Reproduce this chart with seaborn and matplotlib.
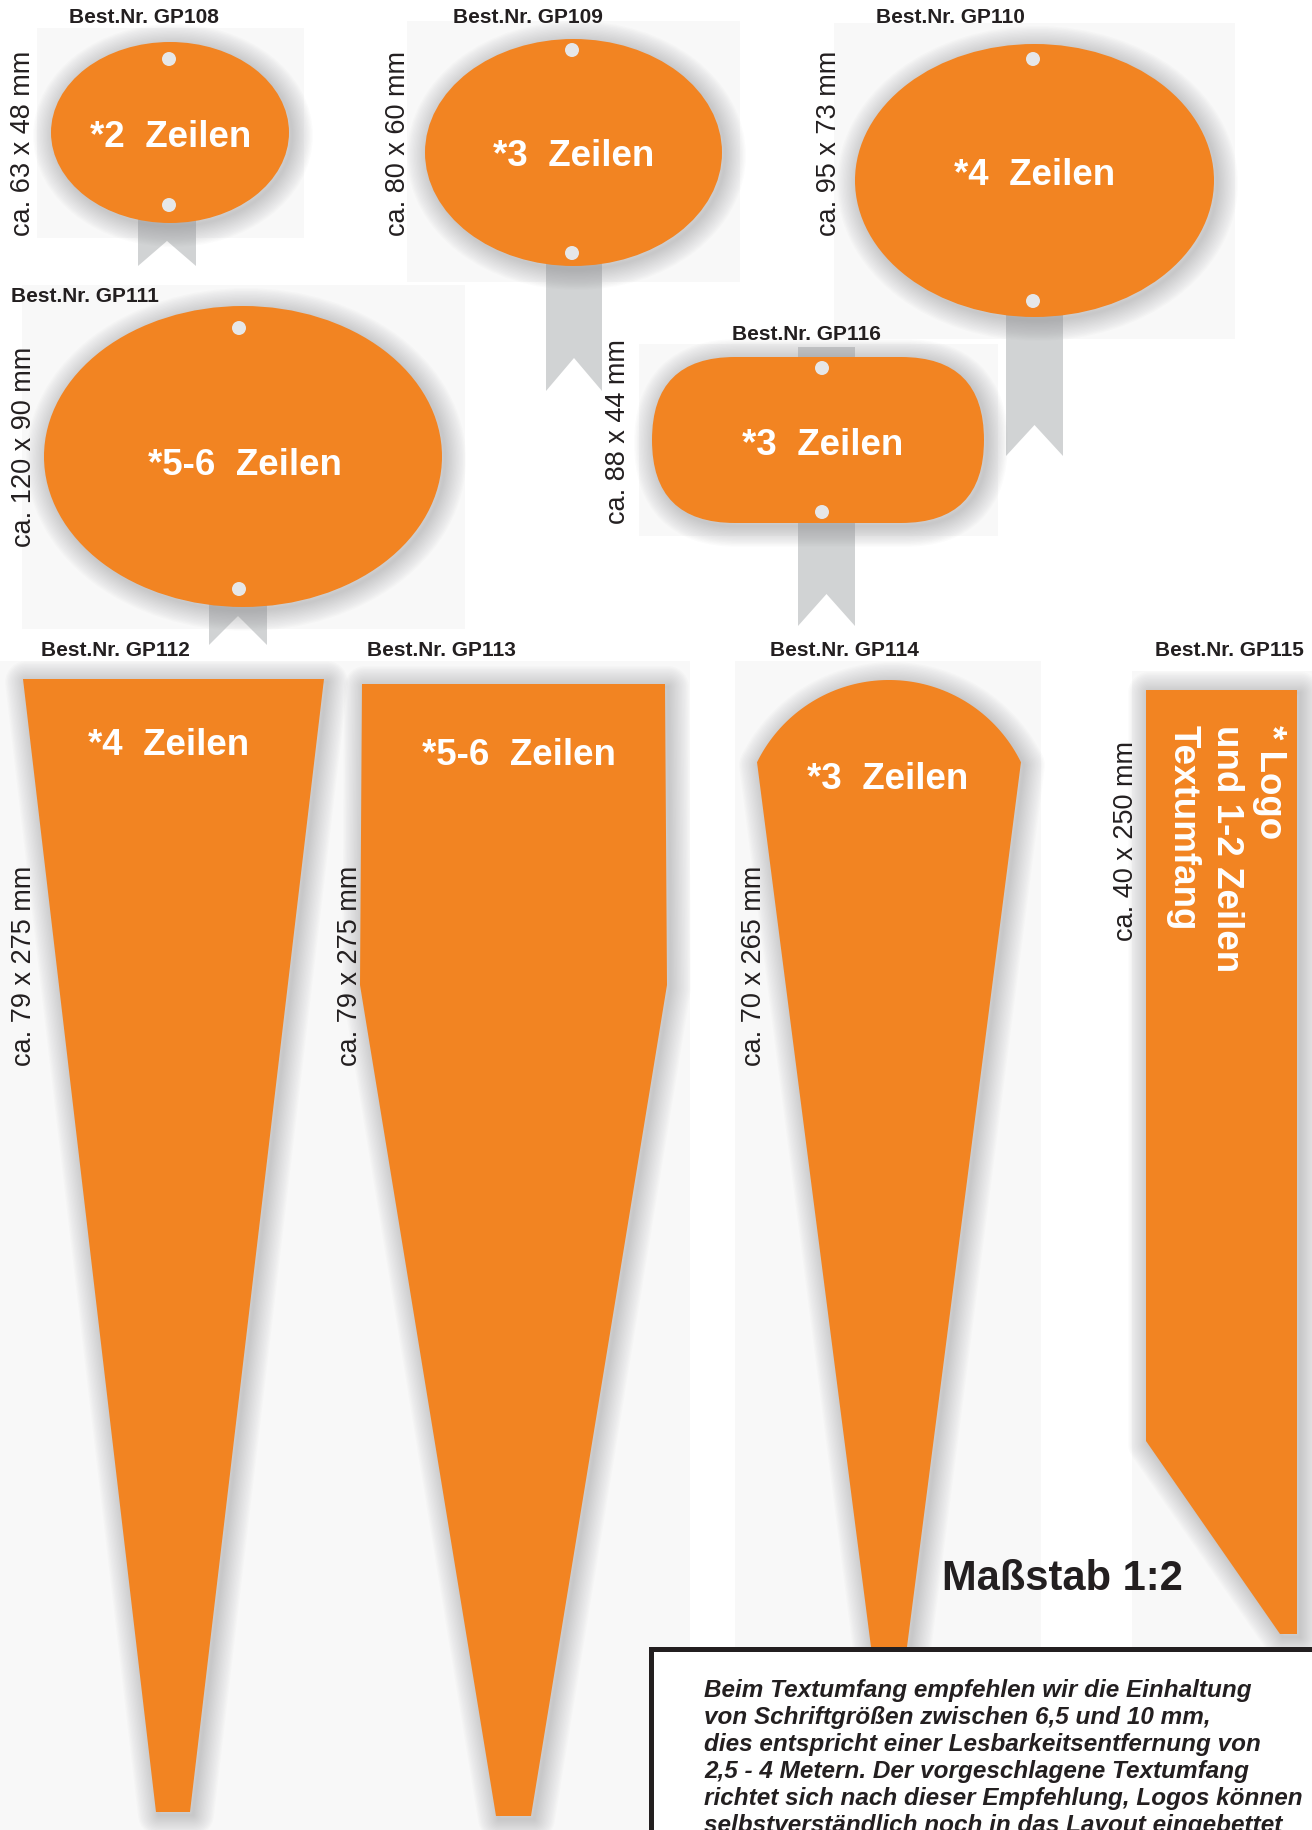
import numpy as np
import matplotlib
matplotlib.use("Agg")
import matplotlib.pyplot as plt
import seaborn as sns
from matplotlib.patches import Ellipse, Polygon, Rectangle, FancyBboxPatch, Circle
from matplotlib.transforms import Affine2D

# ---------------- data ----------------
order_numbers = ["GP108", "GP109", "GP110", "GP111", "GP116",
                 "GP112", "GP113", "GP114", "GP115"]
dimensions = ["ca. 63 x 48 mm", "ca. 80 x 60 mm", "ca. 95 x 73 mm",
              "ca. 120 x 90 mm", "ca. 88 x 44 mm", "ca. 79 x 275 mm",
              "ca. 79 x 275 mm", "ca. 70 x 265 mm", "ca. 40 x 250 mm"]
line_capacity = ["*2  Zeilen", "*3  Zeilen", "*4  Zeilen", "*5-6  Zeilen",
                 "*3  Zeilen", "*4  Zeilen", "*5-6  Zeilen", "*3  Zeilen", None]
gp115_text = ["* Logo", "und 1-2 Zeilen", "Textumfang"]
scale_text = "Maßstab 1:2"
note_lines = [
    "Beim Textumfang empfehlen wir die Einhaltung",
    "von Schriftgrößen zwischen 6,5 und 10 mm,",
    "dies entspricht einer Lesbarkeitsentfernung von",
    "2,5 - 4 Metern. Der vorgeschlagene Textumfang",
    "richtet sich nach dieser Empfehlung, Logos können",
    "selbstverständlich noch in das Layout eingebettet",
]

# ---------------- layout (pixel space) ----------------
label_pos = [(144, 23), (528, 23), (950, 23), (85, 302), (806, 340),
             (115, 656), (441, 656), (844, 656), (1229, 656)]
dim_pos = [(30, 143), (405, 143), (836, 143), (31, 447), (625, 432),
           (31, 966), (357, 966), (761, 966), (1133, 841)]
text_pos = [(171, 147), (574, 166), (1035, 185), (245, 475), (823, 455),
            (169, 755), (519, 765), (888, 789), None]

ovals = {"GP108": (170, 133.5, 238, 181), "GP109": (573.5, 153.5, 297, 227),
         "GP110": (1034.5, 181.5, 359, 273), "GP111": (243, 457.5, 398, 301)}
stadium = (652, 358, 332, 166)
holes = [(169, 60), (169, 206), (572, 51), (572, 254), (1033, 60), (1033, 302),
         (239, 329), (239, 590), (822, 369), (822, 513)]
stakes = [(138, 196, 215, 267, 242), (546, 602, 250, 392, 359),
          (1006, 1063, 300, 457, 426), (209, 267, 590, 646, 617),
          (798, 855, 348, 627, 595)]
poly112 = [(23, 680), (324, 680), (190, 1813), (156, 1813)]
poly113 = [(362, 685), (665, 685), (667, 986), (531, 1817), (496, 1817), (360, 986)]
arc114 = (889, 828, 147, 153.8, 26.2)
tail114 = [(1021, 763), (907, 1648), (871, 1648), (757, 763)]
poly115 = [(1146, 691), (1297, 691), (1297, 1635), (1280, 1635), (1146, 1442)]
panels = [(37, 29, 304, 239), (407, 22, 740, 283), (834, 24, 1235, 340),
          (22, 286, 465, 630), (639, 345, 998, 537), (0, 662, 690, 1831),
          (735, 662, 1041, 1831), (1132, 672, 1312, 1648)]

ORANGE = "#f28422"
DARK = "#231f20"
STAKE = "#d1d3d4"
HOLE = "#e6e7e8"
SHADOW = "#6d6e71"

sns.set_style("white")
plt.rcParams["font.family"] = ["Liberation Sans", "DejaVu Sans"]

fig = plt.figure(figsize=(13.12, 18.31), dpi=100)
ax = fig.add_axes([0, 0, 1, 1])
ax.set_xlim(0, 1312)
ax.set_ylim(1831, 0)
ax.axis("off")
fig.patch.set_facecolor("white")


def shape_factory(kind, geom):
    def make():
        if kind == "oval":
            cx, cy, w, h = geom
            return Ellipse((cx, cy), w, h)
        if kind == "stadium":
            x, y, w, h = geom
            return FancyBboxPatch((x, y), w, h,
                                  boxstyle="round,pad=0,rounding_size=%g" % (h / 2))
        return Polygon(np.array(geom), closed=True)
    return make


def draw_shape(make, z=3):
    for lw in np.linspace(30, 2, 15):
        p = make()
        p.set_transform(Affine2D().translate(3, 3) + ax.transData)
        p.set_facecolor("none")
        p.set_edgecolor(SHADOW)
        p.set_linewidth(lw)
        p.set_alpha(0.024)
        p.set_joinstyle("round")
        p.set_zorder(z - 0.5)
        ax.add_patch(p)
    p = make()
    p.set_facecolor(ORANGE)
    p.set_edgecolor("none")
    p.set_zorder(z)
    ax.add_patch(p)


# panels
for x0, y0, x1, y1 in panels:
    ax.add_patch(Rectangle((x0, y0), x1 - x0, y1 - y0, fc="#f8f8f8", ec="none", zorder=0))

# stakes
for x0, x1, top, bot, apex in stakes:
    cx = (x0 + x1) / 2
    ax.add_patch(Polygon([(x0, top), (x1, top), (x1, bot), (cx, apex), (x0, bot)],
                         closed=True, fc=STAKE, ec="none", zorder=1))

# shapes
for code, g in ovals.items():
    draw_shape(shape_factory("oval", g))
draw_shape(shape_factory("stadium", stadium))
draw_shape(shape_factory("poly", poly112))
draw_shape(shape_factory("poly", poly113))
cx, cy, R, t0, t1 = arc114
t = np.radians(np.linspace(t0, t1, 80))
arc_pts = list(zip(cx + R * np.cos(t), cy - R * np.sin(t)))
draw_shape(shape_factory("poly", arc_pts + tail114))
draw_shape(shape_factory("poly", poly115))

# holes
for hx, hy in holes:
    ax.add_patch(Circle((hx, hy), 7, fc=HOLE, ec="none", zorder=4))

# labels
for code, (lx, ly) in zip(order_numbers, label_pos):
    ax.text(lx, ly, "Best.Nr. " + code, ha="center", va="baseline",
            fontsize=15, fontweight="bold", color=DARK, zorder=5)

for dim, (dx, dy) in zip(dimensions, dim_pos):
    ax.text(dx, dy, dim, rotation=90, rotation_mode="anchor", ha="center",
            va="baseline", fontsize=19.5, color=DARK, zorder=5)

for txt, pos in zip(line_capacity, text_pos):
    if txt is None:
        continue
    ax.text(pos[0], pos[1], txt, ha="center", va="baseline", fontsize=26.5,
            fontweight="bold", color="white", zorder=5)

for line, bx in zip(gp115_text, [1260, 1217, 1174]):
    ax.text(bx, 725, line, rotation=270, rotation_mode="anchor", ha="left",
            va="baseline", fontsize=26.5, fontweight="bold", color="white", zorder=5)

ax.text(1062, 1590, scale_text, ha="center", va="baseline", fontsize=30,
        fontweight="bold", color=DARK, zorder=5)

# note box
ax.add_patch(Rectangle((651, 1650), 720, 260, fc="white", ec=DARK, lw=3.6, zorder=6))
for i, line in enumerate(note_lines):
    ax.text(704, 1697 + 27 * i, line, ha="left", va="baseline", fontsize=17.5,
            fontweight="bold", fontstyle="italic", color=DARK, zorder=7)

fig.savefig("out.png", dpi=100, facecolor="white")
